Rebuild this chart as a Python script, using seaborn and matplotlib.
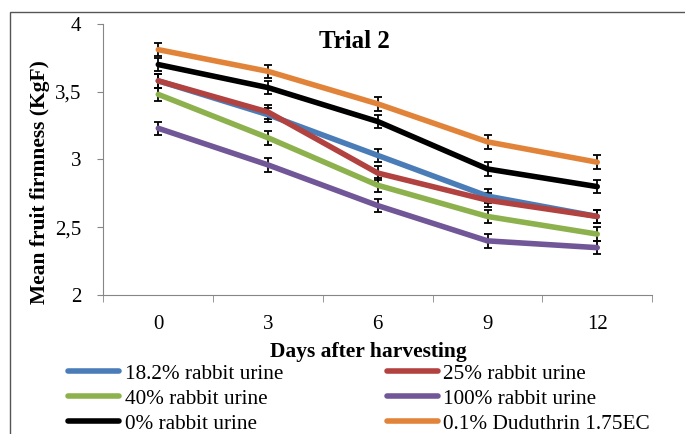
import numpy as np
import pandas as pd
import seaborn as sns
import matplotlib.pyplot as plt
from matplotlib.patches import Rectangle
from matplotlib.ticker import FuncFormatter

days = ["0", "3", "6", "9", "12"]
treatments = ["18.2% rabbit urine", "25% rabbit urine", "40% rabbit urine",
              "100% rabbit urine", "0% rabbit urine", "0.1% Duduthrin 1.75EC"]
blue_vals = [3.58, 3.33, 3.03, 2.73, 2.58]
red_vals = [3.58, 3.35, 2.90, 2.70, 2.58]
green_vals = [3.48, 3.16, 2.81, 2.58, 2.45]
purple_vals = [3.23, 2.96, 2.66, 2.40, 2.35]
black_vals = [3.70, 3.53, 3.28, 2.93, 2.80]
orange_vals = [3.81, 3.65, 3.41, 3.13, 2.98]
err = [0.05, 0.05, 0.05, 0.05, 0.05]
colors = ["#4A7DB8", "#B2423F", "#8DB14C", "#715797", "#000000", "#E1843A"]

series = [blue_vals, red_vals, green_vals, purple_vals, black_vals, orange_vals]
df = pd.DataFrame({
    "day": np.tile(np.arange(len(days)), len(treatments)),
    "firmness": np.concatenate(series),
    "treatment": np.repeat(treatments, len(days)),
})

plt.rcParams['font.family'] = ['Liberation Serif', 'DejaVu Serif']
fig = plt.figure(figsize=(6.85, 4.34), dpi=100)
ax = fig.add_axes([0.151, 0.320, 0.801, 0.625])

# outer frame like the Excel chart area
fig.patches.append(Rectangle((10 / 685, -0.05), 1.2, 1.05 - 12 / 434,
                             transform=fig.transFigure, fill=False,
                             edgecolor="#555555", lw=1.0))

for vals in series:
    ax.errorbar(np.arange(len(days)), vals, yerr=err, fmt='none', ecolor='black',
                elinewidth=1.3, capsize=3, capthick=1.3, zorder=1.5)

sns.lineplot(data=df, x="day", y="firmness", hue="treatment", hue_order=treatments,
             palette=colors, linewidth=4, sort=False, ax=ax, zorder=2,
             solid_capstyle='round')

ax.set_xlim(-0.5, 4.5)
ax.set_ylim(2, 4)
ax.set_xticks(range(len(days)))
ax.set_xticklabels(days, fontsize=15)
ax.set_xticks(np.arange(-0.5, 5, 1), minor=True)
ax.tick_params(axis='x', which='major', length=0, pad=14)
ax.tick_params(axis='x', which='minor', length=5, direction='out', color='#868686')
ax.set_yticks([2, 2.5, 3, 3.5, 4])
ax.yaxis.set_major_formatter(FuncFormatter(lambda v, p: f"{v:g}".replace(".", ",")))
ax.tick_params(axis='y', labelsize=15, length=4, pad=12, direction='out', color='#868686')
for s in ["top", "right"]:
    ax.spines[s].set_visible(False)
for s in ["left", "bottom"]:
    ax.spines[s].set_color('#868686')

ax.set_xlabel("Days after harvesting", fontsize=15.5, fontweight='bold')
ax.xaxis.set_label_coords(0.482, -0.172)
ax.set_ylabel("Mean fruit firmness (KgF)", fontsize=15.5, fontweight='bold')
ax.yaxis.set_label_coords(-0.098, 0.417)
ax.text(0.457, 0.935, "Trial 2", transform=ax.transAxes, ha='center', va='center',
        fontsize=18, fontweight='bold')

handles, labels = ax.get_legend_handles_labels()
order = [0, 2, 4, 1, 3, 5]
leg = ax.legend([handles[i] for i in order], [labels[i] for i in order], ncol=2,
                loc='upper left', bbox_to_anchor=(-0.0795, -0.222), frameon=False,
                fontsize=15.3, handlelength=2.4, handletextpad=0.25,
                columnspacing=4.9, labelspacing=0.24, borderaxespad=0)
for line in leg.get_lines():
    line.set_linewidth(4)
    line.set_solid_capstyle('round')

fig.savefig("out.png", dpi=100)
